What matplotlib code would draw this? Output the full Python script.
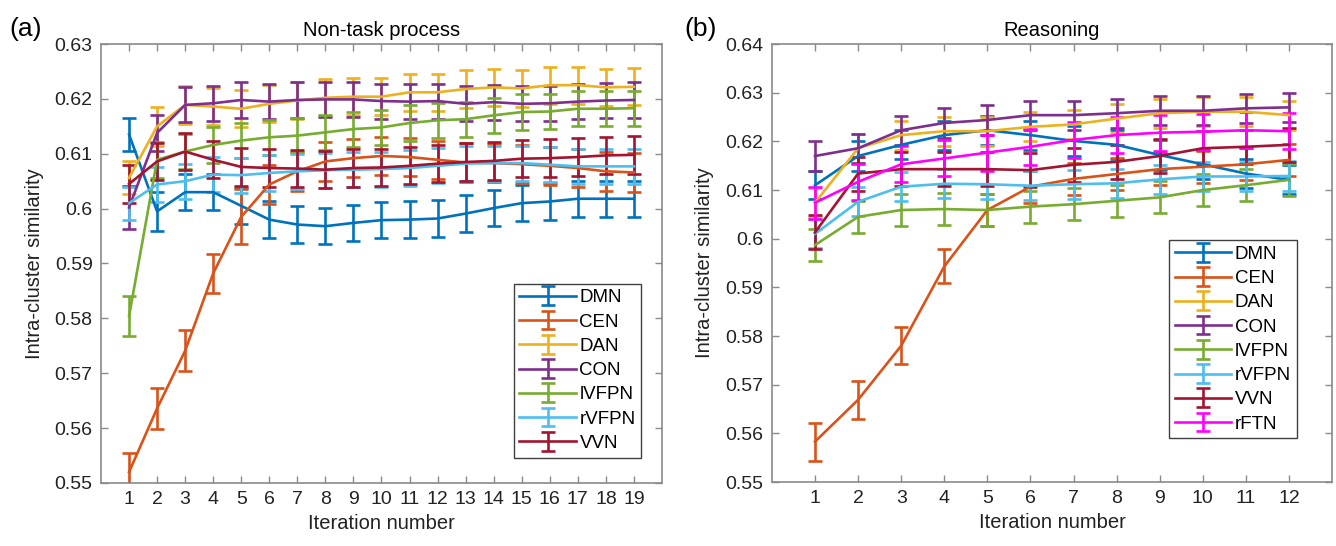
import numpy as np
import matplotlib
matplotlib.use("Agg")
import matplotlib.pyplot as plt
from matplotlib.ticker import FuncFormatter

plt.rcParams["font.family"] = ["Liberation Sans", "DejaVu Sans"]

# ---- panel (a): Non-task process, 19 iterations ----
iters_a = np.arange(1, 20)
a_dmn = [0.6135, 0.5995, 0.6030, 0.6030, 0.6005, 0.5980, 0.5971, 0.5968, 0.5974, 0.5979,
         0.5980, 0.5982, 0.5991, 0.6001, 0.6010, 0.6013, 0.6018, 0.6018, 0.6018]
a_cen = [0.5520, 0.5636, 0.5741, 0.5882, 0.5985, 0.6044, 0.6068, 0.6086, 0.6092, 0.6096,
         0.6094, 0.6089, 0.6084, 0.6083, 0.6081, 0.6078, 0.6074, 0.6068, 0.6066]
a_dan = [0.6056, 0.6150, 0.6189, 0.6186, 0.6182, 0.6191, 0.6197, 0.6202, 0.6204, 0.6204,
         0.6212, 0.6212, 0.6218, 0.6221, 0.6219, 0.6225, 0.6225, 0.6221, 0.6222]
a_con = [0.6002, 0.6138, 0.6189, 0.6192, 0.6198, 0.6195, 0.6198, 0.6199, 0.6199, 0.6196,
         0.6195, 0.6196, 0.6191, 0.6194, 0.6191, 0.6192, 0.6195, 0.6197, 0.6198]
a_lvfpn = [0.5804, 0.6089, 0.6104, 0.6116, 0.6124, 0.6130, 0.6133, 0.6139, 0.6145, 0.6148,
           0.6156, 0.6161, 0.6163, 0.6170, 0.6176, 0.6177, 0.6182, 0.6182, 0.6183]
a_rvfpn = [0.6010, 0.6044, 0.6050, 0.6062, 0.6061, 0.6065, 0.6068, 0.6070, 0.6071, 0.6072,
           0.6074, 0.6078, 0.6082, 0.6083, 0.6083, 0.6080, 0.6077, 0.6077, 0.6077]
a_vvn = [0.6045, 0.6086, 0.6104, 0.6089, 0.6076, 0.6074, 0.6073, 0.6071, 0.6074, 0.6075,
         0.6078, 0.6082, 0.6085, 0.6087, 0.6091, 0.6092, 0.6094, 0.6097, 0.6098]

a_err_dmn = [0.0030, 0.0036, 0.0033, 0.0033, 0.0033, 0.0033, 0.0033, 0.0033, 0.0033, 0.0033,
             0.0033, 0.0033, 0.0033, 0.0033, 0.0033, 0.0033, 0.0033, 0.0033, 0.0033]
a_err_cen = [0.0035, 0.0038, 0.0037, 0.0035, 0.0050, 0.0035, 0.0035, 0.0035, 0.0035, 0.0035,
             0.0035, 0.0035, 0.0035, 0.0035, 0.0035, 0.0035, 0.0035, 0.0035, 0.0035]
a_err_dan = [0.0030, 0.0035, 0.0034, 0.0034, 0.0034, 0.0034, 0.0034, 0.0034, 0.0034, 0.0034,
             0.0034, 0.0034, 0.0034, 0.0034, 0.0034, 0.0034, 0.0034, 0.0034, 0.0034]
a_err_con = [0.0040, 0.0033, 0.0032, 0.0032, 0.0032, 0.0032, 0.0032, 0.0032, 0.0032, 0.0032,
             0.0032, 0.0032, 0.0032, 0.0032, 0.0032, 0.0032, 0.0032, 0.0032, 0.0032]
a_err_lvfpn = [0.0037, 0.0033, 0.0032, 0.0032, 0.0032, 0.0032, 0.0032, 0.0032, 0.0032, 0.0032,
               0.0032, 0.0032, 0.0032, 0.0032, 0.0032, 0.0032, 0.0032, 0.0032, 0.0032]
a_err_rvfpn = [0.0030, 0.0032, 0.0032, 0.0032, 0.0032, 0.0032, 0.0032, 0.0032, 0.0032, 0.0032,
               0.0032, 0.0032, 0.0032, 0.0032, 0.0032, 0.0032, 0.0032, 0.0032, 0.0032]
a_err_vvn = [0.0035, 0.0034, 0.0034, 0.0034, 0.0034, 0.0034, 0.0034, 0.0034, 0.0034, 0.0034,
             0.0034, 0.0034, 0.0034, 0.0034, 0.0034, 0.0034, 0.0034, 0.0034, 0.0034]

# ---- panel (b): Reasoning, 12 iterations ----
iters_b = np.arange(1, 13)
b_dmn = [0.6110, 0.6170, 0.6193, 0.6213, 0.6223, 0.6213, 0.6201, 0.6193, 0.6172, 0.6153, 0.6134, 0.6121]
b_cen = [0.5583, 0.5669, 0.5780, 0.5943, 0.6059, 0.6107, 0.6123, 0.6133, 0.6143, 0.6148, 0.6153, 0.6162]
b_dan = [0.6074, 0.6186, 0.6213, 0.6221, 0.6221, 0.6230, 0.6235, 0.6247, 0.6258, 0.6261, 0.6261, 0.6254]
b_con = [0.6170, 0.6186, 0.6223, 0.6238, 0.6244, 0.6254, 0.6254, 0.6258, 0.6263, 0.6263, 0.6268, 0.6270]
b_lvfpn = [0.5987, 0.6045, 0.6059, 0.6061, 0.6059, 0.6066, 0.6071, 0.6078, 0.6085, 0.6100, 0.6110, 0.6121]
b_rvfpn = [0.6010, 0.6076, 0.6107, 0.6113, 0.6112, 0.6109, 0.6112, 0.6114, 0.6122, 0.6128, 0.6128, 0.6129]
b_vvn = [0.6013, 0.6134, 0.6143, 0.6143, 0.6143, 0.6141, 0.6152, 0.6158, 0.6170, 0.6186, 0.6189, 0.6193]
b_rftn = [0.6074, 0.6117, 0.6153, 0.6165, 0.6177, 0.6189, 0.6203, 0.6213, 0.6218, 0.6220, 0.6223, 0.6221]

b_err_dmn = [0.0029, 0.0030, 0.0030, 0.0030, 0.0030, 0.0030, 0.0030, 0.0030, 0.0030, 0.0030, 0.0030, 0.0030]
b_err_cen = [0.0039, 0.0039, 0.0038, 0.0035, 0.0033, 0.0033, 0.0033, 0.0033, 0.0033, 0.0033, 0.0033, 0.0033]
b_err_dan = [0.0030, 0.0030, 0.0030, 0.0030, 0.0030, 0.0030, 0.0030, 0.0030, 0.0030, 0.0030, 0.0030, 0.0030]
b_err_con = [0.0030, 0.0030, 0.0030, 0.0030, 0.0030, 0.0030, 0.0030, 0.0030, 0.0030, 0.0030, 0.0030, 0.0030]
b_err_lvfpn = [0.0033, 0.0033, 0.0033, 0.0033, 0.0033, 0.0033, 0.0033, 0.0033, 0.0033, 0.0033, 0.0033, 0.0033]
b_err_rvfpn = [0.0030, 0.0030, 0.0030, 0.0030, 0.0030, 0.0030, 0.0030, 0.0030, 0.0030, 0.0030, 0.0030, 0.0030]
b_err_vvn = [0.0035, 0.0035, 0.0035, 0.0035, 0.0035, 0.0035, 0.0035, 0.0035, 0.0035, 0.0035, 0.0035, 0.0035]
b_err_rftn = [0.0033, 0.0037, 0.0037, 0.0037, 0.0037, 0.0037, 0.0037, 0.0037, 0.0037, 0.0037, 0.0037, 0.0037]

colors = {
    "DMN": (0.000, 0.447, 0.741),
    "CEN": (0.850, 0.325, 0.098),
    "DAN": (0.929, 0.694, 0.125),
    "CON": (0.494, 0.184, 0.556),
    "lVFPN": (0.466, 0.674, 0.188),
    "rVFPN": (0.301, 0.745, 0.933),
    "VVN": (0.635, 0.078, 0.184),
    "rFTN": (1.000, 0.000, 1.000),
}

series_a = [
    ("DMN", a_dmn, a_err_dmn),
    ("CEN", a_cen, a_err_cen),
    ("DAN", a_dan, a_err_dan),
    ("CON", a_con, a_err_con),
    ("lVFPN", a_lvfpn, a_err_lvfpn),
    ("rVFPN", a_rvfpn, a_err_rvfpn),
    ("VVN", a_vvn, a_err_vvn),
]
series_b = [
    ("DMN", b_dmn, b_err_dmn),
    ("CEN", b_cen, b_err_cen),
    ("DAN", b_dan, b_err_dan),
    ("CON", b_con, b_err_con),
    ("lVFPN", b_lvfpn, b_err_lvfpn),
    ("rVFPN", b_rvfpn, b_err_rvfpn),
    ("VVN", b_vvn, b_err_vvn),
    ("rFTN", b_rftn, b_err_rftn),
]

fig = plt.figure(figsize=(13.36, 5.46), dpi=100)
ax_a = fig.add_axes([0.0756, 0.1154, 0.4199, 0.804])
ax_b = fig.add_axes([0.5778, 0.1172, 0.4192, 0.802])

gray = "#8a8a8a"


def style_axes(ax, xs, xlim, ylim, yticks):
    ax.set_xlim(*xlim)
    ax.set_ylim(*ylim)
    ax.set_xticks(xs)
    ax.set_yticks(yticks)
    ax.yaxis.set_major_formatter(FuncFormatter(lambda v, p: f"{v:g}"))
    ax.tick_params(direction="in", top=True, right=True, length=5, width=1,
                   color=gray, labelsize=14, labelcolor="#222222", pad=6)
    for s in ax.spines.values():
        s.set_color(gray)
        s.set_linewidth(1.2)
    ax.set_xlabel("Iteration number", fontsize=14.5, color="#222222", labelpad=4)
    ax.set_ylabel("Intra-cluster similarity", fontsize=14.5, color="#222222", labelpad=8)


def draw(ax, xs, series):
    for name, ys, err in series:
        ax.errorbar(xs, ys, yerr=err, color=colors[name], linewidth=1.9,
                    elinewidth=1.9, capsize=5, capthick=1.9, label=name)


draw(ax_a, iters_a, series_a)
draw(ax_b, iters_b, series_b)

style_axes(ax_a, iters_a, (0, 20), (0.55, 0.63), np.arange(0.55, 0.6301, 0.01))
style_axes(ax_b, iters_b, (0, 13), (0.55, 0.64), np.arange(0.55, 0.6401, 0.01))

ax_a.set_title("Non-task process", fontsize=14.5, pad=6)
ax_b.set_title("Reasoning", fontsize=14.5, pad=6)

for ax, anchor in [(ax_a, (0.963, 0.058)), (ax_b, (0.937, 0.100))]:
    leg = ax.legend(loc="lower right", bbox_to_anchor=anchor, fontsize=13.5,
                    handlelength=3.0, labelspacing=0.38, borderpad=0.3,
                    handletextpad=0.2, borderaxespad=0, fancybox=False, framealpha=1)
    leg.get_frame().set_edgecolor("#404040")
    leg.get_frame().set_linewidth(1.0)

fig.text(0.019, 0.947, "(a)", fontsize=19, ha="center", va="center")
fig.text(0.524, 0.947, "(b)", fontsize=19, ha="center", va="center")

fig.savefig("out.png", dpi=100)
